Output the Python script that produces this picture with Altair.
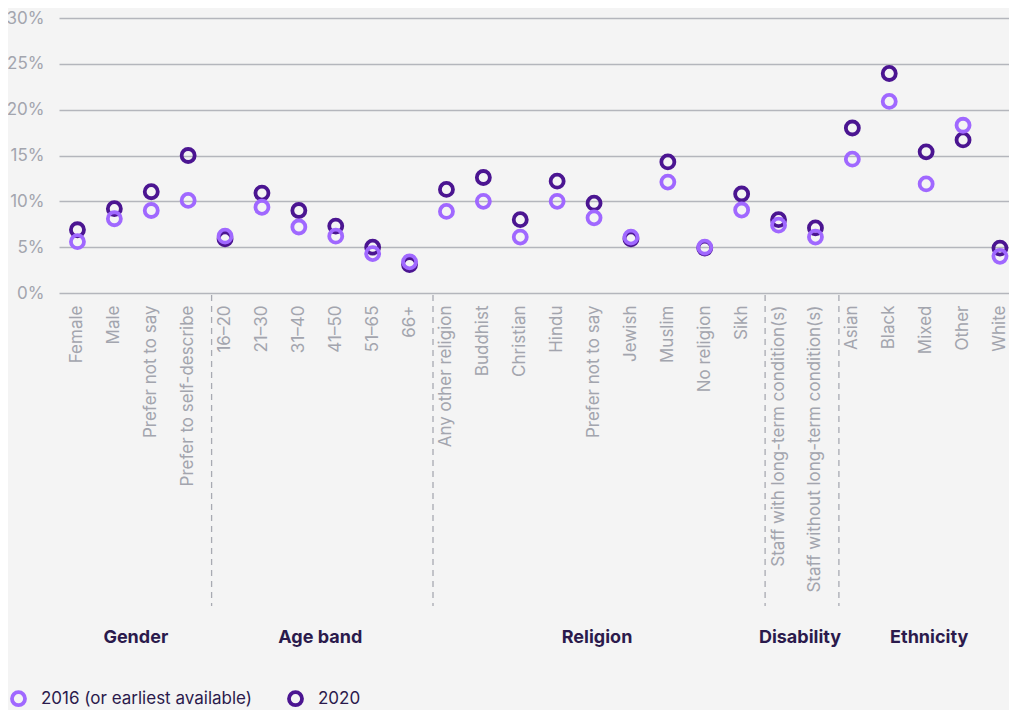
import altair as alt
import pandas as pd

groups = ["Gender", "Age band", "Religion", "Disability", "Ethnicity"]
categories = {
    "Gender": ["Female", "Male", "Prefer not to say", "Prefer to self-describe"],
    "Age band": ["16–20", "21–30", "31–40", "41–50", "51–65", "66+"],
    "Religion": ["Any other religion", "Buddhist", "Christian", "Hindu",
                 "Prefer not to say", "Jewish", "Muslim", "No religion", "Sikh"],
    "Disability": ["Staff with long-term condition(s)",
                   "Staff without long-term condition(s)"],
    "Ethnicity": ["Asian", "Black", "Mixed", "Other", "White"],
}
values_2016 = [5.6, 8.1, 9.0, 10.1,
               6.2, 9.35, 7.2, 6.2, 4.3, 3.4,
               8.9, 10.0, 6.1, 10.0, 8.2, 6.1, 12.1, 5.0, 9.05,
               7.4, 6.1,
               14.6, 20.9, 11.9, 18.3, 4.0]
values_2020 = [6.9, 9.2, 11.05, 15.0,
               5.9, 10.9, 9.0, 7.3, 5.0, 3.1,
               11.3, 12.6, 8.0, 12.2, 9.8, 5.9, 14.3, 4.9, 10.8,
               8.0, 7.1,
               18.0, 23.95, 15.4, 16.7, 4.9]
series = ["2016 (or earliest available)", "2020"]
colors = ["#a068ff", "#4b1591"]

keys = []
for g in groups:
    for c in categories[g]:
        keys.append(g + "|" + c)

rows = []
for s, vals in zip(series, [values_2016, values_2020]):
    for k, v in zip(keys, vals):
        rows.append({"key": k, "series": s, "value": v})
df = pd.DataFrame(rows)

# group boundaries (first category of each group after the first)
bounds = pd.DataFrame({"key": [g + "|" + categories[g][0] for g in groups[1:]]})

# group labels: even-sized groups sit on a boundary, odd-sized on a middle category
even_rows, odd_rows = [], []
for g in groups:
    cats = categories[g]
    n = len(cats)
    if n % 2 == 0:
        even_rows.append({"key": g + "|" + cats[n // 2 - 1], "group": g})
    else:
        odd_rows.append({"key": g + "|" + cats[n // 2], "group": g})
even_df = pd.DataFrame(even_rows)
odd_df = pd.DataFrame(odd_rows)

W = 949
H = 275
STEP = 36.9
X0 = -1

xscale = alt.Scale(domain=keys, range=[X0, X0 + STEP * len(keys)],
                   paddingInner=0, paddingOuter=0)
font = "Inter"
gray = "#a3a5ae"
dark = "#2b1a4c"

base_x = alt.X("key:N", sort=keys, scale=xscale,
               axis=alt.Axis(title=None, labelAngle=-90, labelFontSize=17,
                             labelColor=gray, labelFont=font, labelPadding=12,
                             ticks=False, domain=False, labelLimit=400,
                             labelExpr="split(datum.label, '|')[1]"))

points = alt.Chart(df).mark_point(shape="circle", filled=False, strokeWidth=3.8,
                                  size=170, opacity=1).encode(
    x=base_x,
    y=alt.Y("value:Q", scale=alt.Scale(domain=[0, 30]),
            axis=alt.Axis(title=None, values=[0, 5, 10, 15, 20, 25, 30],
                          labelExpr="datum.value + '%'", labelFontSize=17,
                          labelColor=gray, labelFont=font, labelPadding=16,
                          ticks=False, domain=False, gridColor="#b4b6bc",
                          gridWidth=1.5)),
    color=alt.Color("series:N", sort=series,
                    scale=alt.Scale(domain=series, range=colors),
                    legend=alt.Legend(title=None, orient="none", direction="horizontal",
                                      legendX=-50, legendY=672, labelFontSize=17,
                                      labelColor=dark, labelFont=font, labelLimit=400,
                                      symbolStrokeWidth=3.8, symbolSize=170,
                                      symbolType="circle", symbolFillColor="transparent",
                                      columnPadding=28, labelOffset=14, padding=0)),
    order=alt.Order("order:Q"),
).transform_calculate(order="datum.series == '2020' ? 0 : 1")

rules = alt.Chart(bounds).mark_rule(color="#a8aab2", strokeDash=[6, 5], strokeWidth=1.3,
                                    xOffset=5).encode(
    x=alt.X("key:N", sort=keys, scale=xscale, bandPosition=0),
    y=alt.value(H + 2),
    y2=alt.value(H + 313),
)

labels_even = alt.Chart(even_df).mark_text(fontSize=18, fontWeight="bold", color=dark,
                                           font=font, dx=3, baseline="middle").encode(
    x=alt.X("key:N", sort=keys, scale=xscale, bandPosition=1),
    y=alt.value(H + 345),
    text="group:N",
)
labels_odd = alt.Chart(odd_df).mark_text(fontSize=18, fontWeight="bold", color=dark,
                                         font=font, dx=3, baseline="middle").encode(
    x=alt.X("key:N", sort=keys, scale=xscale, bandPosition=0.5),
    y=alt.value(H + 345),
    text="group:N",
)

chart = alt.layer(points, rules, labels_even, labels_odd).properties(
    width=W, height=H,
    background="#f4f4f4",
    autosize=alt.AutoSizeParams(type="none"),
    padding={"left": 52, "top": 10, "right": 0, "bottom": 417},
).configure_view(stroke=None)

chart.save("out.html", embed_options={"renderer": "svg", "actions": False})
